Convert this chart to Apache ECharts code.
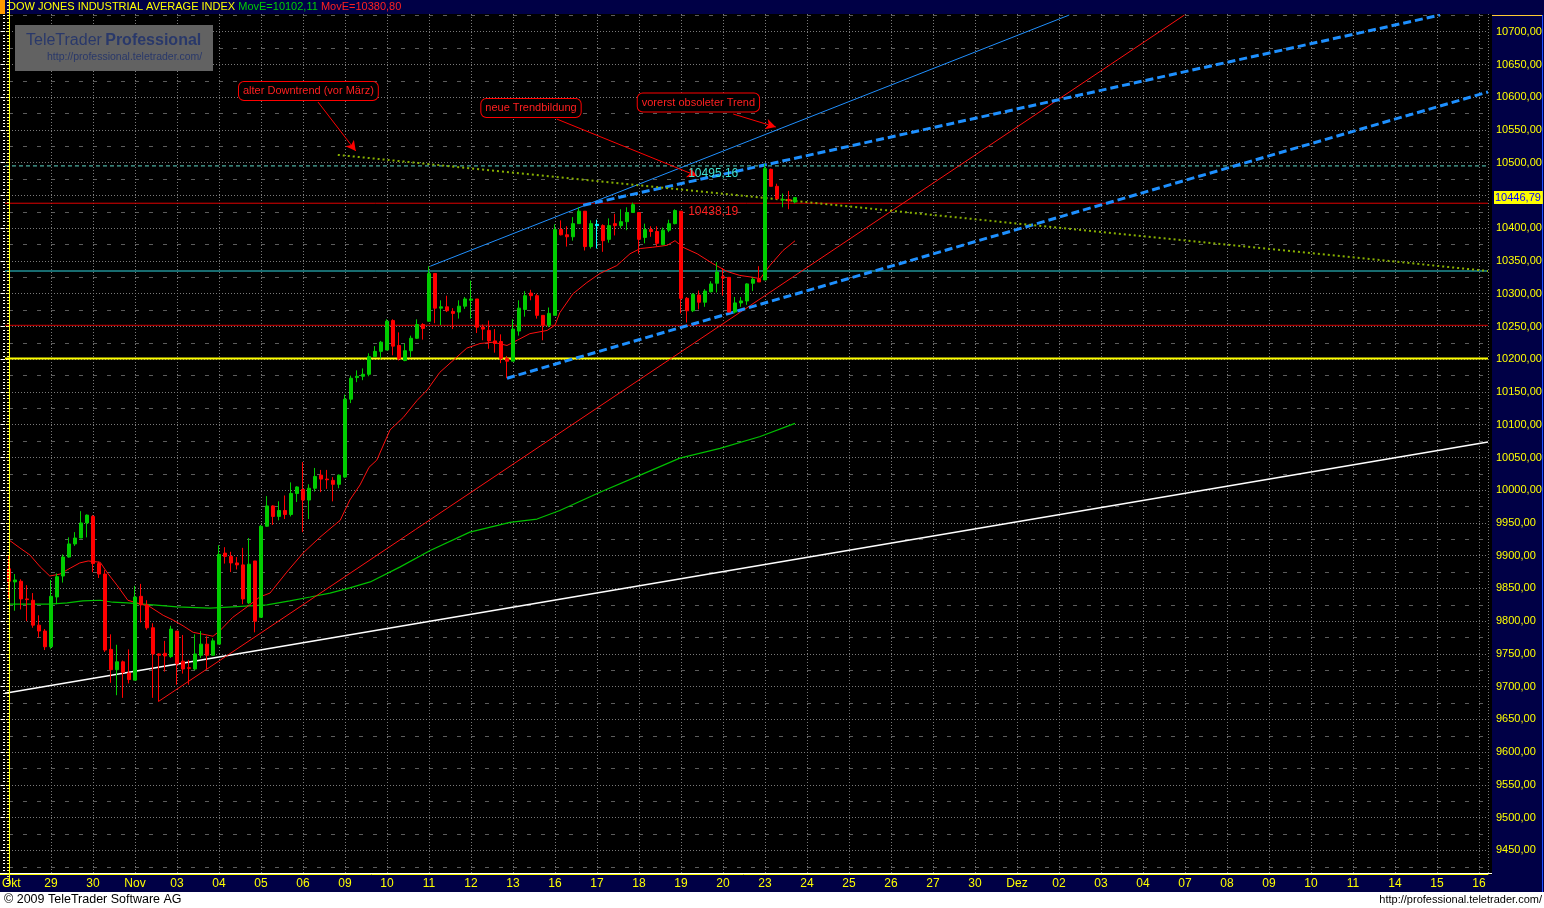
<!DOCTYPE html>
<html><head><meta charset="utf-8">
<script src="https://cdn.jsdelivr.net/npm/echarts@6/dist/echarts.min.js"></script>
<style>html,body{margin:0;padding:0;background:#000;overflow:hidden}#c{width:1544px;height:908px}</style>
</head><body><div id="c"></div>
<script>
// ---------- data ----------
const dayLabels = ['Okt','29','30','Nov','03','04','05','06','09','10','11','12','13','16','17','18','19','20','23','24','25','26','27','30','Dez','02','03','04','07','08','09','10','11','14','15','16'];
const barsPerDay = 7;
const opens = [9880,9860,9861,9834,9832,9794,9785, 9761,9837,9869,9898,9918,9927,9950, 9960,9888,9872,9757,9726,9738,9721,
 9710,9838,9825,9790,9750,9751,9746, 9785,9739,9729,9727,9748,9765,9748, 9765,9904,9899,9889,9886,9828,9892,
 9806,9945,9976,9960,9969,9963,9995, 10001,9985,10003,10023,10017,10015,10009, 10020,10139,10172,10174,10177,10204,10212,
 10214,10259,10221,10198,10213,10232,10253, 10258,10331,10278,10280,10273,10272,10281, 10290,10292,10249,10244,10228,10227,10201,
 10197,10243,10276,10301,10297,10267,10252, 10267,10398,10390,10387,10407,10426,10372, 10406,10404,10383,10407,10404,10410,10424,
 10424,10386,10398,10395,10375,10397,10407, 10426,10293,10274,10298,10287,10303,10316, 10326,10325,10272,10286,10289,10316,10322,
 10321,10490,10464,10443,10444,10440];
const highs = [9901,9872,9864,9855,9843,9809,9788, 9863,9873,9902,9928,9936,9968,9963, 9962,9891,9878,9780,9764,9740,9757,
 9854,9857,9832,9797,9751,9770,9793, 9785,9779,9741,9780,9785,9777,9774, 9916,9913,9906,9898,9912,9927,9892,
 9947,9991,9977,9983,9992,10012,10006, 10043,10009,10034,10031,10031,10020,10024, 10146,10175,10183,10186,10209,10220,10228,
 10261,10261,10241,10224,10236,10261,10255, 10342,10331,10290,10297,10278,10290,10295, 10320,10292,10253,10259,10246,10238,10205,
 10261,10290,10304,10306,10300,10267,10279, 10406,10412,10403,10417,10432,10426,10412, 10413,10406,10415,10422,10429,10432,10439,
 10424,10407,10403,10403,10401,10413,10429, 10426,10295,10301,10305,10307,10319,10348, 10339,10325,10295,10295,10316,10325,10342,
 10498,10491,10468,10453,10457,10447];
const lows = [9834,9816,9818,9800,9790,9775,9756, 9758,9826,9859,9897,9915,9927,9928, 9875,9866,9753,9706,9687,9683,9705,
 9710,9798,9787,9683,9677,9723,9744, 9703,9720,9703,9725,9744,9727,9748, 9765,9888,9875,9879,9826,9826,9783,
 9806,9944,9947,9954,9956,9960,9982, 9936,9956,9998,9997,10002,9983,10003, 10019,10133,10165,10168,10174,10203,10201,
 10214,10206,10198,10197,10203,10231,10230, 10258,10255,10252,10272,10246,10262,10277, 10262,10240,10229,10216,10210,10194,10171,
 10197,10236,10265,10290,10262,10229,10249, 10267,10389,10372,10381,10407,10366,10369, 10369,10364,10378,10389,10400,10397,10424,
 10361,10377,10387,10372,10374,10394,10406, 10270,10256,10272,10276,10280,10302,10302, 10297,10272,10270,10280,10283,10304,10318,
 10321,10464,10445,10432,10429,10438];
const closes = [9861,9863,9834,9833,9794,9785,9761, 9838,9868,9898,9918,9927,9950,9962, 9888,9872,9756,9726,9738,9722,9711,
 9837,9825,9790,9750,9748,9747,9788, 9735,9727,9728,9750,9765,9748,9770, 9902,9899,9889,9886,9834,9887,9800,
 9945,9976,9960,9969,9963,9995,10005, 9985,10003,10021,10017,10016,10009,10023, 10139,10171,10174,10177,10204,10212,10226,
 10258,10220,10201,10213,10232,10253,10247, 10331,10278,10280,10274,10270,10281,10292, 10292,10249,10246,10228,10224,10201,10197,
 10246,10278,10297,10297,10267,10252,10270, 10398,10390,10387,10407,10426,10372,10407, 10404,10381,10404,10404,10410,10424,10436,
 10383,10398,10395,10377,10397,10407,10427, 10293,10274,10299,10287,10304,10315,10333, 10324,10272,10286,10289,10315,10322,10318,
 10491,10464,10445,10444,10442,10446.79];
const markedBar = 98;
// moving averages: [bar index, value]
const maRed = [[0,9924],[1.8,9912],[3.5,9901],[5.2,9883],[6.8,9869],[8.5,9872],[10.2,9881],[11.8,9889],[13.2,9892],[15.2,9890],[16.3,9875],[18,9855],[19.8,9832],[21.3,9828],[23.5,9822],[25.7,9809],[27.3,9802],[29,9793],[30.7,9783],[33,9779],[34,9777],[35.2,9786],[37.3,9806],[39.7,9822],[41.8,9837],[43.5,9843],[46.3,9875],[49,9904],[51.8,9928],[54,9945],[55.2,9954],[56.8,9985],[58.5,10008],[60,10035],[61.3,10046],[63.5,10092],[65.7,10111],[68,10137],[69.7,10153],[71.8,10180],[74,10198],[76.3,10217],[78.5,10224],[80.7,10226],[83,10221],[84.7,10229],[86.8,10239],[89.7,10244],[91,10252],[91.8,10271],[94,10300],[96.3,10317],[98.5,10331],[101.3,10343],[103.5,10361],[105.2,10369],[107.3,10371],[109.7,10374],[111,10381],[112.3,10371],[114.7,10361],[117.3,10346],[119.7,10334],[121.8,10328],[124,10325],[125.2,10323],[126.8,10343],[129,10366],[131,10380.8]];
const maGreen = [[0,9826],[3.5,9826],[6.8,9826],[9.7,9828],[12.3,9831],[15.2,9832],[17.3,9829],[19.7,9828],[24,9825],[28,9822],[33.5,9820],[37.3,9822],[43,9825],[46.8,9831],[50.2,9837],[53.5,9843],[56.8,9851],[60.2,9860],[65.2,9883],[70.2,9908],[76.8,9936],[83.5,9951],[88,9956],[91.8,9969],[98.5,9997],[105.2,10023],[111.8,10049],[118.5,10064],[125.2,10082],[131,10102.11]];
// trend lines: two points each [bar index, value]
const whiteTrend = [[-0.67,9690],[246.5,10073.6]];
const redTrend = [[25,9678],[195.9,10725.5]];
const blueThin = [[70.2,10342],[176.7,10725.5]];
const blueDashUpper = [[95.7,10435],[238.5,10725.5]];
const blueDashLower = [[83,10171],[246.5,10608]];
const oliveDowntrend = [[54.8,10512],[246.5,10334.7]];
// horizontal levels
const levelCyanDash = 10495.16, levelRed1 = 10438.19, levelCyan = 10334.7, levelRed2 = 10251.8, levelYellow = 10201;
const lastPrice = 10446.79;
const yRange = [9400, 10750], yStep = 50, yLabelMin = 9450, yLabelMax = 10700;
const xRange = [-7, 246.5], xLeftVisible = -0.67;
const callouts = [
  {text:'alter Downtrend (vor März)', at:[49.9,10609.5], from:[51.5,10592.7], to:[57.8,10517.9]},
  {text:'neue Trendbildung', at:[87,10583.5], from:[91.3,10566.7], to:[114.7,10479.7]},
  {text:'vorerst obsoleter Trend', at:[114.9,10591.9], from:[120.7,10574.4], to:[127.8,10554.5]}
];
const levelTexts = [{text:'10495,16', at:[113.2, levelCyanDash], color:'#40e0d0'},{text:'10438,19', at:[113.2, levelRed1], color:'#ff2020'}];

// ---------- chart ----------
const FONT = 'Liberation Sans, Arial, sans-serif';
const NAVY = '#000046';
const chart = echarts.init(document.getElementById('c'), null, {renderer:'canvas'});
const candles = opens.map((o,i)=>{
  const v=[i,o,closes[i],lows[i],highs[i]];
  if(i===markedBar) return {value:v,itemStyle:{color:'#00ffff',color0:'#00ffff',borderColor:'#00ffff',borderColor0:'#00ffff'}};
  return v;
});
function hline(v,color,width,type,z){
  return {type:'line',data:[[xLeftVisible,v],[xRange[1],v]],symbol:'none',silent:true,z:z||3,
    lineStyle:{color:color,width:width,type:type||'solid'}};
}
function tline(d,color,width,type,z){
  return {type:'line',data:d,symbol:'none',silent:true,z:z||4,lineStyle:{color:color,width:width,type:type||'solid'}};
}
const fmtY = v => (v<yLabelMin||v>yLabelMax||Math.abs(v/yStep-Math.round(v/yStep))>1e-6)?'':v.toFixed(2).replace('.',',');
// first day label is drawn left-aligned separately (as in the original, it sits at the left edge)
const fmtX = v => { const k=Math.round(v/barsPerDay); if(Math.abs(v-k*barsPerDay)>1e-6||k<1||k>=dayLabels.length) return ''; return dayLabels[k]; };

const option = {
  animation:false,
  backgroundColor:'#000',
  grid:{left:-33,right:56,top:-1,bottom:24.8,containLabel:false,outerBoundsMode:'none'},
  xAxis:[
    {type:'value',min:xRange[0],max:xRange[1],interval:barsPerDay,position:'top',
     axisLine:{show:false},axisTick:{show:false},axisLabel:{show:false},
     splitLine:{show:true,lineStyle:{color:'#7a7a7a',width:1,type:[1,2]}}},
    {type:'value',min:xRange[0],max:xRange[1],interval:barsPerDay,position:'bottom',offset:-9,z:60,
     axisLine:{show:true,lineStyle:{color:'#ffff00',width:1}},axisTick:{show:false},
     axisLabel:{show:true,formatter:fmtX,color:'#ffff00',fontSize:12,fontFamily:FONT,margin:3,showMinLabel:true,showMaxLabel:false},
     splitLine:{show:false}}
  ],
  yAxis:[
    {type:'value',min:yRange[0],max:yRange[1],interval:yStep,position:'left',
     axisLine:{show:false},axisTick:{show:false},axisLabel:{show:false},
     splitLine:{show:true,lineStyle:{color:'#7a7a7a',width:1,type:[1,2]}},
     minorTick:{show:false,splitNumber:2},
     minorSplitLine:{show:true,lineStyle:{color:'#5c5c5c',width:1,type:[4,10]}}},
    {type:'value',min:yRange[0],max:yRange[1],interval:yStep,position:'right',offset:3,z:60,
     axisLine:{show:true,lineStyle:{color:'#ffff00',width:1}},
     axisTick:{show:true,inside:true,length:3,lineStyle:{color:'#ffff80'}},
     minorTick:{show:true,splitNumber:10,length:2,lineStyle:{color:'#ffff80'}},
     axisLabel:{show:true,formatter:fmtY,color:'#ffff00',fontSize:11,fontFamily:FONT,margin:5,showMinLabel:false,showMaxLabel:false},
     splitLine:{show:false}},
    {type:'value',min:yRange[0],max:yRange[1],interval:yStep,position:'left',offset:-38,z:45,
     axisLine:{show:false},
     axisTick:{show:true,inside:false,length:4,lineStyle:{color:'#ffffff'}},
     minorTick:{show:true,splitNumber:10,length:2,lineStyle:{color:'#ffffff'}},
     axisLabel:{show:false},splitLine:{show:false}}
  ],
  series:[
    hline(levelCyanDash,'#5fd8c8',1,[4,3]),
    hline(levelRed1,'#e00000',1),
    hline(levelCyan,'#30d8e0',1),
    hline(levelRed2,'#d00000',1),
    hline(levelYellow,'#ffff00',2),
    {type:'line',data:maGreen,symbol:'none',silent:true,z:3,lineStyle:{color:'#00c000',width:1.2}},
    {type:'line',data:maRed,symbol:'none',silent:true,z:3,lineStyle:{color:'#ff1010',width:1}},
    {type:'candlestick',data:candles,barWidth:3,z:5,silent:true,
     itemStyle:{color:'#00cc00',color0:'#ff0000',borderColor:'#00cc00',borderColor0:'#ff0000',borderWidth:1}},
    tline(whiteTrend,'#ffffff',1.6),
    tline(redTrend,'#ff1010',1),
    tline(blueThin,'#2090ff',1),
    tline(blueDashUpper,'#1e90ff',3,[8,4]),
    tline(blueDashLower,'#1e90ff',3,[8,4]),
    tline(oliveDowntrend,'#88b000',2,[2,3]),
    {type:'line',data:[],symbol:'none',silent:true,z:6,
     markLine:{silent:true,symbol:['none','arrow'],symbolSize:[8,10],label:{show:false},animation:false,
       lineStyle:{color:'#ff0000',width:1,type:'solid'},
       data:callouts.map(c=>[{coord:c.from},{coord:c.to}])}}
  ]
};
chart.setOption(option);

const px = p => chart.convertToPixel({xAxisIndex:0,yAxisIndex:0},p);
const g = [];
// title bar
g.push({type:'rect',shape:{x:0,y:0,width:1544,height:14},style:{fill:NAVY},z:50,silent:true});
g.push({type:'rect',shape:{x:0,y:0,width:5,height:14},style:{fill:'#ff9900'},z:51,silent:true});
g.push({type:'text',x:8,y:7,z:52,silent:true,style:{text:'{a|DOW JONES INDUSTRIAL AVERAGE INDEX} {b|MovE=10102,11} {c|MovE=10380,80}',
  verticalAlign:'middle',font:'11px '+FONT,rich:{a:{fill:'#ffff00',font:'11px '+FONT},b:{fill:'#00d000',font:'11px '+FONT},c:{fill:'#ff2020',font:'11px '+FONT}}}});
// right panel
g.push({type:'rect',shape:{x:1492,y:14,width:52,height:878},style:{fill:NAVY},z:50,silent:true});
g.push({type:'line',shape:{x1:1492,y1:15.5,x2:1542,y2:15.5},style:{stroke:'#ffcc33',lineWidth:1},z:51,silent:true});
g.push({type:'line',shape:{x1:1542.5,y1:15,x2:1542.5,y2:892},style:{stroke:'#2050ff',lineWidth:1},z:51,silent:true});
// bottom strip
g.push({type:'rect',shape:{x:0,y:875,width:1544,height:17},style:{fill:NAVY},z:50,silent:true});
g.push({type:'line',shape:{x1:0,y1:873.5,x2:1492,y2:873.5},style:{stroke:'#ffffff',lineWidth:1},z:51,silent:true});
// first day label, left-aligned at the chart's left edge
const p0 = px([0, yRange[0]]);
g.push({type:'text',x:p0[0]-7,y:883.5,z:70,silent:true,style:{text:dayLabels[0],fill:'#ffff00',font:'12px '+FONT,verticalAlign:'middle'}});
// footer
g.push({type:'rect',shape:{x:0,y:892,width:1544,height:16},style:{fill:'#ffffff'},z:50,silent:true});
g.push({type:'text',x:4,y:900,z:52,silent:true,style:{text:'© 2009 TeleTrader Software AG',fill:'#000',font:'12.5px '+FONT,verticalAlign:'middle'}});
g.push({type:'text',x:1542,y:900,z:52,silent:true,style:{text:'http://professional.teletrader.com/',fill:'#000',font:'11px '+FONT,align:'right',verticalAlign:'middle'}});
// watermark
g.push({type:'rect',shape:{x:15,y:25,width:198,height:46},style:{fill:'#626262'},z:20,silent:true});
g.push({type:'text',x:26,y:41,z:21,silent:true,style:{text:'{a|TeleTrader} {b|Professional}',verticalAlign:'middle',
  rich:{a:{fill:'#29386a',font:'16px '+FONT},b:{fill:'#29386a',font:'bold 16px '+FONT}}}});
g.push({type:'text',x:47,y:57,z:21,silent:true,style:{text:'http://professional.teletrader.com/',fill:'#29386a',font:'10.5px '+FONT,verticalAlign:'middle'}});
// callouts
callouts.forEach(c=>{
  const p=px(c.at);
  g.push({type:'text',x:p[0],y:p[1],z:30,silent:true,style:{text:c.text,fill:'#ff2020',font:'11px '+FONT,align:'center',verticalAlign:'middle',
    backgroundColor:'#000',borderColor:'#ff0000',borderWidth:1,borderRadius:5,padding:[4,4,3,4]}});
});
levelTexts.forEach(t=>{
  const p=px(t.at);
  g.push({type:'text',x:p[0],y:p[1]+8,z:30,silent:true,style:{text:t.text,fill:t.color,font:'12px '+FONT,verticalAlign:'middle'}});
});
// last price tag
const lp = px([0,lastPrice]);
g.push({type:'text',x:1494,y:lp[1],z:70,silent:true,style:{text:lastPrice.toFixed(2).replace('.',','),fill:'#0000ff',font:'11px '+FONT,verticalAlign:'middle',backgroundColor:'#ffff00',padding:[1,2,1,1]}});
chart.setOption({graphic:{elements:g}});
</script></body></html>
